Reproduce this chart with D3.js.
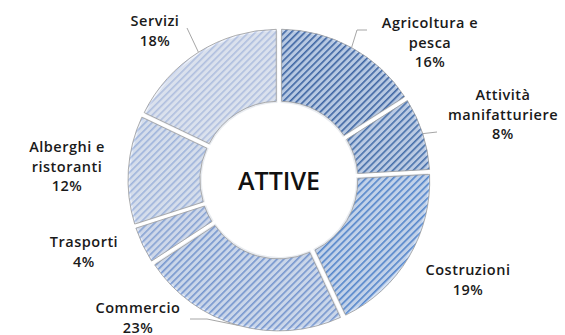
<!DOCTYPE html>
<html>
<head>
<meta charset="utf-8">
<script src="https://cdn.jsdelivr.net/npm/d3@7"></script>
<style>
  body { margin: 0; background: #fff; }
  svg { display: block; }
</style>
</head>
<body>
<svg id="chart"></svg>
<script>
"use strict";

// data
const categories = ["Agricoltura e pesca", "Attività manifatturiere", "Costruzioni", "Commercio", "Trasporti", "Alberghi e ristoranti", "Servizi"];
const values = [16, 8, 19, 23, 4, 12, 18];
const labelLines = [["Agricoltura e", "pesca"], ["Attività", "manifatturiere"], ["Costruzioni"], ["Commercio"], ["Trasporti"], ["Alberghi e", "ristoranti"], ["Servizi"]];
const centerText = "ATTIVE";

// pattern colours (stripe, background) per slice
const stripeColors = ["#4169a8", "#4a74b0", "#5a8dd4", "#7f9fd8", "#93aede", "#adc1e7", "#bfcdeb"];
const backColors = ["#c8d8ef", "#ccdaf0", "#d4e2f6", "#dde7f7", "#e2e9f7", "#e9eff9", "#eff3fb"];

const width = 565;
const height = 335;
const cx = 279, cy = 180;
const outerR = 149, innerR = 77;
const explode = 2;

// label layout: centre x, first baseline, and leader bend points (null = no leader)
const labelLayout = [
    { x: 430, y: 28, leader: [[357, 30], [367, 30]] },
    { x: 503, y: 100, leader: [[437, 132]] },
    { x: 468, y: 275, leader: null },
    { x: 138, y: 313, leader: [[207, 319], [190, 319]] },
    { x: 84, y: 247, leader: null },
    { x: 67, y: 152, leader: null },
    { x: 155, y: 26, leader: [[187, 28]] }
];

const svg = d3.select("#chart")
    .attr("width", width)
    .attr("height", height);

const defs = svg.append("defs");

// striped patterns
stripeColors.forEach((c, i) => {
    const p = defs.append("pattern")
        .attr("id", "pat" + i)
        .attr("patternUnits", "userSpaceOnUse")
        .attr("width", 4.8)
        .attr("height", 10)
        .attr("patternTransform", "rotate(45)");
    p.append("rect").attr("width", 4.8).attr("height", 10).attr("fill", backColors[i]);
    p.append("rect").attr("width", 1.6).attr("height", 10).attr("fill", c);
});

// soft shading towards the rims
const shade = defs.append("radialGradient")
    .attr("id", "shade")
    .attr("gradientUnits", "userSpaceOnUse")
    .attr("cx", cx).attr("cy", cy).attr("r", outerR + explode);
shade.append("stop").attr("offset", innerR / (outerR + explode)).attr("stop-color", "#1f3f70").attr("stop-opacity", 0.06);
shade.append("stop").attr("offset", 0.66).attr("stop-color", "#1f3f70").attr("stop-opacity", 0);
shade.append("stop").attr("offset", 0.9).attr("stop-color", "#1f3f70").attr("stop-opacity", 0);
shade.append("stop").attr("offset", 1).attr("stop-color", "#1f3f70").attr("stop-opacity", 0.10);

const pie = d3.pie().sort(null).value(d => d).padAngle(0.022);
const arcs = pie(values);

const arc = d3.arc().innerRadius(innerR).outerRadius(outerR).padRadius(outerR);

const g = svg.append("g").attr("transform", `translate(${cx},${cy})`);

const slices = g.selectAll("g.slice")
    .data(arcs)
    .join("g")
    .attr("class", "slice")
    .attr("transform", d => {
        const a = (d.startAngle + d.endAngle) / 2;
        return `translate(${Math.sin(a) * explode},${-Math.cos(a) * explode})`;
    });

slices.append("path")
    .attr("d", arc)
    .attr("fill", (d, i) => `url(#pat${i})`);

slices.append("path")
    .attr("d", arc)
    .attr("fill", "url(#shade)")
    .attr("transform", d => {
        const a = (d.startAngle + d.endAngle) / 2;
        return `translate(${-Math.sin(a) * explode},${Math.cos(a) * explode})`;
    });

slices.append("path")
    .attr("d", arc)
    .attr("fill", "none")
    .attr("stroke", "#9a9a9a")
    .attr("stroke-width", 0.8);

// leader lines
arcs.forEach((d, i) => {
    const L = labelLayout[i];
    if (!L.leader) return;
    const a = (d.startAngle + d.endAngle) / 2;
    const r = outerR + explode;
    const pts = [[cx + Math.sin(a) * r, cy - Math.cos(a) * r]].concat(L.leader);
    svg.append("path")
        .attr("d", d3.line()(pts))
        .attr("fill", "none")
        .attr("stroke", "#a6a6a6")
        .attr("stroke-width", 1);
});

// labels
const lineH = 19.5;
arcs.forEach((d, i) => {
    const L = labelLayout[i];
    const t = svg.append("text")
        .attr("x", L.x)
        .attr("y", L.y)
        .attr("text-anchor", "middle")
        .attr("font-family", "'Open Sans', sans-serif")
        .attr("font-weight", 600)
        .attr("font-size", "14.5px")
        .attr("letter-spacing", "0.5px")
        .attr("fill", "#1a1a1a");
    const lines = labelLines[i].concat([values[i] + "%"]);
    lines.forEach((s, k) => {
        t.append("tspan")
            .attr("x", L.x)
            .attr("y", L.y + k * lineH)
            .text(s);
    });
});

// centre title
svg.append("text")
    .attr("x", cx)
    .attr("y", cy + 10)
    .attr("text-anchor", "middle")
    .attr("font-family", "'Open Sans', sans-serif")
    .attr("font-weight", 600)
    .attr("font-size", "25px")
    .attr("fill", "#111")
    .text(centerText);
</script>
</body>
</html>
